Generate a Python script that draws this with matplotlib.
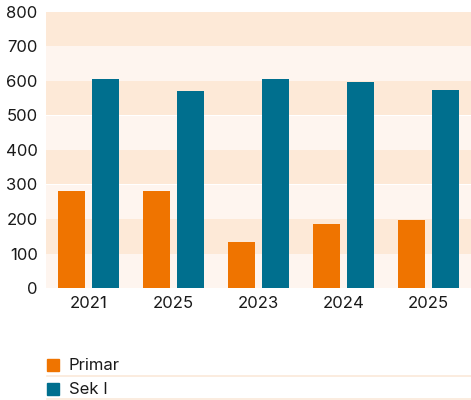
import matplotlib.pyplot as plt
import numpy as np
from matplotlib.patches import Rectangle
from matplotlib.lines import Line2D

plt.rcParams['font.family'] = ['Inter', 'DejaVu Sans']

years = ["2021", "2025", "2023", "2024", "2025"]
primar = [281, 281, 133, 185, 197]
sek_i = [606, 571, 606, 597, 574]
series_names = ["Primar", "Sek I"]
colors = ["#ef7400", "#006f8e"]

fig = plt.figure(figsize=(4.71, 4.0), dpi=100)
ax = fig.add_axes([46 / 471, 112 / 400, 425 / 471, 276 / 400])

# bandas alternadas de fondo
for i, lo in enumerate(range(0, 800, 100)):
    c = "#fef5ef" if i % 2 == 0 else "#fde9d7"
    ax.axhspan(lo, lo + 100, color=c, lw=0, zorder=0)

x = np.arange(len(years))
w = 0.31
ax.bar(x - 0.2, primar, w, color=colors[0], zorder=2)
ax.bar(x + 0.2, sek_i, w, color=colors[1], zorder=2)

ax.set_xlim(-0.5, len(years) - 0.5)
ax.set_ylim(0, 800)
ax.set_yticks(range(0, 801, 100))
ax.set_xticks(x)
ax.set_xticklabels(years)
ax.tick_params(length=0, labelsize=12, colors="#1a1a1a", pad=6)
for s in ax.spines.values():
    s.set_visible(False)

# leyenda manual con lineas separadoras
for i, (name, c) in enumerate(zip(series_names, colors)):
    yc = 1 - (365 + 24 * i) / 400
    fig.patches.append(Rectangle((47 / 471, yc - 6 / 400), 12 / 471, 12 / 400,
                                 transform=fig.transFigure, color=c))
    fig.text(69 / 471, yc, name, va="center", ha="left", fontsize=12, color="#1a1a1a")
    yl = 1 - (376 + 22.5 * i) / 400
    fig.add_artist(Line2D([47 / 471, 1], [yl, yl], transform=fig.transFigure,
                          color="#fbe9d9", lw=1.2))

fig.savefig("out.png", dpi=100)
